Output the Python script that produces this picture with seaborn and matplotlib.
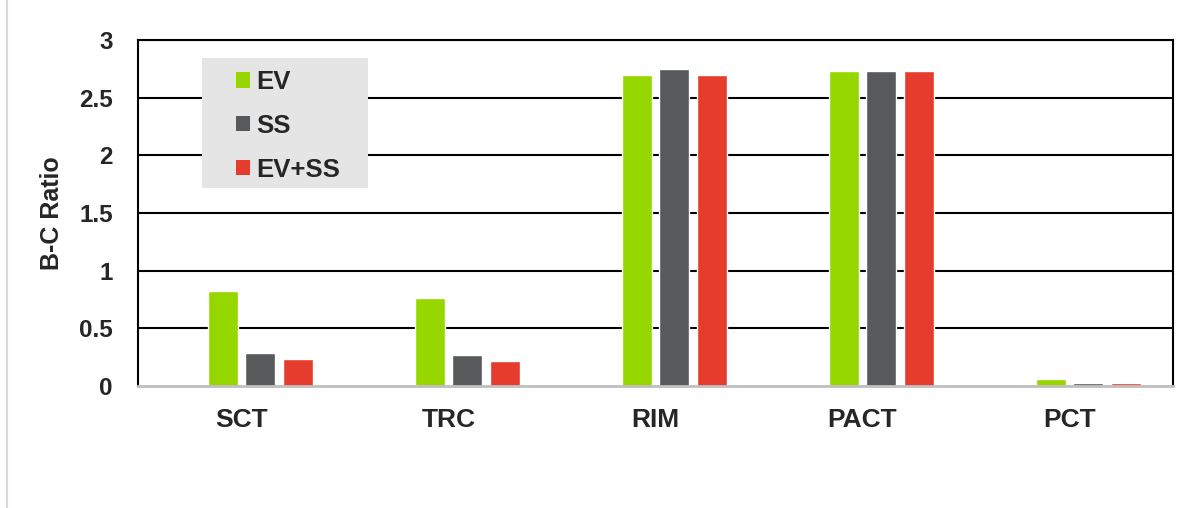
import matplotlib
matplotlib.use("Agg")
import matplotlib.pyplot as plt
import seaborn as sns
import pandas as pd
from matplotlib.lines import Line2D
from matplotlib.patches import Patch, Rectangle

categories = ["SCT", "TRC", "RIM", "PACT", "PCT"]
ev = [0.82, 0.76, 2.70, 2.73, 0.06]
ss = [0.29, 0.27, 2.75, 2.73, 0.03]
ev_ss = [0.23, 0.22, 2.70, 2.73, 0.03]
series_names = ["EV", "SS", "EV+SS"]
colors = ["#97d700", "#58595b", "#e63c2e"]
y_ticks = [0, 0.5, 1, 1.5, 2, 2.5, 3]
y_tick_labels = ["0", "0.5", "1", "1.5", "2", "2.5", "3"]

sns.set_theme(style="white")
plt.rcParams["font.family"] = ["Liberation Sans", "DejaVu Sans"]

rows = []
for i, c in enumerate(categories):
    rows.append({"cat": c, "series": " ", "value": 0.0})
    for name, vals in zip(series_names, [ev, ss, ev_ss]):
        rows.append({"cat": c, "series": name, "value": vals[i]})
df = pd.DataFrame(rows)

W, H = 1199, 508
fig = plt.figure(figsize=(W/100, H/100), dpi=100)
ax = fig.add_axes([138/W, 1-386/H, (1173-138)/W, (386-40)/H])

palette = {" ": "white", "EV": colors[0], "SS": colors[1], "EV+SS": colors[2]}
sns.barplot(data=df, x="cat", y="value", hue="series", order=categories,
            hue_order=[" "] + series_names, palette=palette, width=0.725,
            gap=0.2, ax=ax, legend=False, errorbar=None, saturation=1)

ax.set_ylim(0, 3)
ax.set_xlim(-0.5, len(categories) - 0.5)
ax.set_yticks(y_ticks)
ax.set_yticklabels(y_tick_labels)
for y in y_ticks[1:]:
    ax.axhline(y, color="black", lw=1.5, zorder=0.5)

for s in ["left", "right", "top"]:
    ax.spines[s].set_visible(True)
    ax.spines[s].set_color("black")
    ax.spines[s].set_linewidth(1.5)
ax.spines["bottom"].set_color("#bfbfbf")
ax.spines["bottom"].set_linewidth(2)

ax.tick_params(axis="both", length=0)
ax.tick_params(axis="y", labelsize=17.5, pad=18)
ax.tick_params(axis="x", labelsize=19, pad=16)
for lab in ax.get_xticklabels() + ax.get_yticklabels():
    lab.set_fontweight("bold")
ax.set_xlabel("")
ax.set_ylabel("B-C Ratio", fontsize=18, fontweight="bold", labelpad=11)

# legend background box
ax.add_patch(Rectangle((202/W, 1-188/H), (368-202)/W, (188-58)/H,
                       transform=fig.transFigure, facecolor="#e5e5e5",
                       edgecolor="none", zorder=3, clip_on=False))

handles = [Patch(facecolor=c, edgecolor="none") for c in colors]
leg = ax.legend(handles, series_names, loc="upper left",
                bbox_to_anchor=(236/W, 1-70/H), bbox_transform=fig.transFigure,
                frameon=False, prop={"weight": "bold", "size": 18.5},
                handlelength=0.55, handleheight=0.55, handletextpad=0.25,
                labelspacing=0.77, borderpad=0, borderaxespad=0)
leg.set_zorder(5)

fig.add_artist(Line2D([7/W, 7/W], [0, 1], color="#d9d9d9", lw=1.5,
                      transform=fig.transFigure))

fig.savefig("out.png", dpi=100)
